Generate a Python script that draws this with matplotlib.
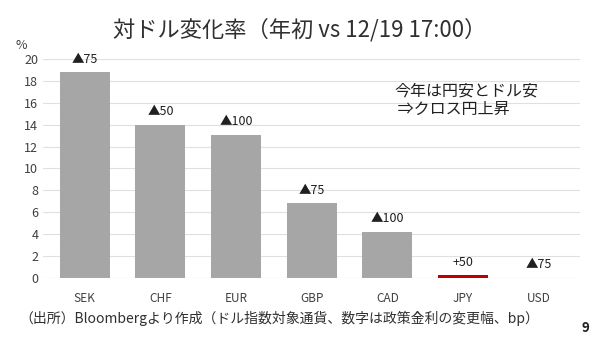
import matplotlib
matplotlib.use("Agg")
import matplotlib.pyplot as plt

plt.rcParams['font.family'] = ['Noto Sans CJK JP', 'DejaVu Sans']

categories = ["SEK", "CHF", "EUR", "GBP", "CAD", "JPY", "USD"]
values = [18.8, 14.0, 13.1, 6.8, 4.2, 0.25, 0.0]
rate_labels = ["▲75", "▲50", "▲100", "▲75", "▲100", "+50", "▲75"]
colors = ["#a6a6a6"] * 5 + ["#c00000", "#a6a6a6"]
yticks = list(range(0, 21, 2))

fig = plt.figure(figsize=(6, 3.41), dpi=100)
ax = fig.add_axes([0.072, 0.185, 0.895, 0.642])
x = list(range(len(categories)))
ax.bar(x, values, width=0.66, color=colors, zorder=3)
ax.set_xlim(-0.55, len(categories) - 0.45)
ax.set_ylim(0, 20)
ax.set_yticks(yticks)
ax.set_yticklabels([str(t) for t in yticks], fontsize=9, color="#404040")
ax.set_xticks(x)
ax.set_xticklabels(categories, fontsize=8.5, color="#404040")
ax.tick_params(axis='both', length=0)
ax.tick_params(axis='x', pad=10)
ax.grid(axis='y', color="#e0e0e0", linewidth=0.8, zorder=0)
for s in ax.spines.values():
    s.set_visible(False)
ax.axhline(0, color="#d9d9d9", linewidth=0.8, zorder=2)

for xi, v, lab in zip(x, values, rate_labels):
    ax.text(xi, v + 0.6, lab, ha='center', va='bottom', fontsize=9, color="#202020")

fig.text(0.5, 0.912, "対ドル変化率（年初 vs 12/19 17:00）", ha='center', va='center',
         fontsize=16, color="#303030")
fig.text(0.025, 0.868, "%", fontsize=9, color="#404040", va='center')
fig.text(0.657, 0.705, "今年は円安とドル安\n ⇒クロス円上昇", fontsize=11.5,
         color="#202020", va='center', linespacing=1.1)
fig.text(0.033, 0.066, "（出所）Bloombergより作成（ドル指数対象通貨、数字は政策金利の変更幅、bp）",
         fontsize=10, color="#303030", va='center')
fig.text(0.975, 0.038, "9", fontsize=9.5, fontweight='bold', color="#202020", ha='center', va='center')

fig.savefig("out.png", dpi=100)
